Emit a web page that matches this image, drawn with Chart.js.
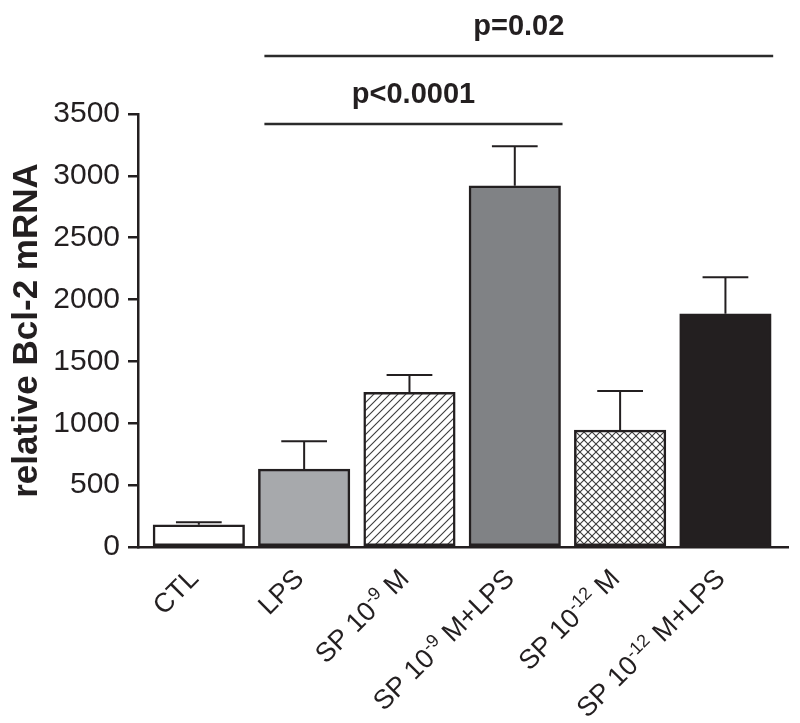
<!DOCTYPE html>
<html>
<head>
<meta charset="utf-8">
<script src="https://cdn.jsdelivr.net/npm/chart.js@4.4.0/dist/chart.umd.min.js"></script>
<style>
  html, body { margin: 0; padding: 0; background: #fff; }
  #wrap { width: 800px; height: 723px; }
</style>
</head>
<body>
<div id="wrap"><canvas id="bcl2Chart"></canvas></div>
<script>
// --- DATA ---
// Group names; ^{...} marks a superscript part of the label.
const groups = ['CTL', 'LPS', 'SP 10^{-9} M', 'SP 10^{-9} M+LPS', 'SP 10^{-12} M', 'SP 10^{-12} M+LPS'];
// Mean relative Bcl-2 mRNA per group.
const meanBcl2 = [180, 630, 1250, 2920, 945, 1885];
// Upward error bar length per group.
const errBcl2 = [20, 225, 140, 320, 315, 295];
const yTicks = [0, 500, 1000, 1500, 2000, 2500, 3000, 3500];
// Significance brackets (group index -> group index).
const compFrom = [1, 1];
const compTo = [3, 5];
const compLabels = ['p<0.0001', 'p=0.02'];

// --- STYLE ---
const INK = '#231f20';
const FONT = '"Liberation Sans", Arial, Helvetica, sans-serif';

// Small repeating tile for the hatched bars ('/' only, or a crosshatch).
function hatch(cross) {
    const s = 8;
    const c = document.createElement('canvas');
    c.width = s; c.height = s;
    const g = c.getContext('2d');
    g.fillStyle = '#fff';
    g.fillRect(0, 0, s, s);
    g.strokeStyle = '#3a3a3a';
    g.lineWidth = 1.1;
    const seg = (x0, y0, x1, y1) => { g.beginPath(); g.moveTo(x0, y0); g.lineTo(x1, y1); g.stroke(); };
    seg(-1, s + 1, s + 1, -1); seg(-1, 1, 1, -1); seg(s - 1, s + 1, s + 1, s - 1);
    if (cross) {
        seg(-1, -1, s + 1, s + 1); seg(-1, s - 1, 1, s + 1); seg(s - 1, -1, s + 1, 1);
    }
    return g.createPattern(c, 'repeat');
}

const barFills = ['#ffffff', '#a7a9ac', hatch(false), '#808285', hatch(true), INK];

// Split 'SP 10^{-9} M' into plain/superscript runs.
function labelParts(label) {
    const out = [];
    label.split(/(\^\{[^}]*\})/).forEach(p => {
        if (!p) return;
        const m = p.match(/^\^\{(.*)\}$/);
        out.push(m ? { text: m[1], sup: true } : { text: p, sup: false });
    });
    return out;
}

// --- PLUGINS ---
const errorBars = {
    id: 'errorBars',
    afterDatasetsDraw(chart) {
        const { ctx, scales: { y } } = chart;
        const bars = chart.getDatasetMeta(0).data;
        ctx.save();
        ctx.strokeStyle = INK;
        ctx.lineWidth = 2;
        bars.forEach((bar, i) => {
            const top = y.getPixelForValue(meanBcl2[i] + errBcl2[i]);
            const half = bar.width * 0.25;
            ctx.beginPath();
            ctx.moveTo(bar.x, bar.y);
            ctx.lineTo(bar.x, top);
            ctx.moveTo(bar.x - half, top);
            ctx.lineTo(bar.x + half, top);
            ctx.stroke();
        });
        ctx.restore();
    }
};

// Rotated group labels with real superscripts (Chart.js ticks can't do those).
const groupLabels = {
    id: 'groupLabels',
    afterDraw(chart) {
        const { ctx, chartArea, scales: { x } } = chart;
        const mainFont = `27px ${FONT}`;
        const supFont = `18px ${FONT}`;
        ctx.save();
        ctx.fillStyle = INK;
        ctx.textBaseline = 'alphabetic';
        ctx.textAlign = 'left';
        groups.forEach((label, i) => {
            const parts = labelParts(label);
            let total = 0;
            parts.forEach(p => {
                ctx.font = p.sup ? supFont : mainFont;
                p.w = ctx.measureText(p.text).width;
                total += p.w;
            });
            ctx.save();
            ctx.translate(x.getPixelForValue(i) + 1, chartArea.bottom + 33);
            ctx.rotate(-Math.PI / 4);
            let cx = -total;
            parts.forEach(p => {
                ctx.font = p.sup ? supFont : mainFont;
                ctx.fillText(p.text, cx, p.sup ? -10 : 0);
                cx += p.w;
            });
            ctx.restore();
        });
        ctx.restore();
    }
};

const brackets = {
    id: 'brackets',
    afterDraw(chart) {
        const { ctx, chartArea, scales: { x } } = chart;
        const bw = chart.getDatasetMeta(0).data[0].width;
        ctx.save();
        compLabels.forEach((label, k) => {
            const lineY = chartArea.top + 10 - k * 68;
            const x0 = x.getPixelForValue(compFrom[k]) - bw / 2 + 6;
            const x1 = x.getPixelForValue(compTo[k]) + bw / 2 + 2;
            ctx.strokeStyle = '#2b2b2b';
            ctx.lineWidth = 2.5;
            ctx.beginPath();
            ctx.moveTo(x0, lineY);
            ctx.lineTo(x1, lineY);
            ctx.stroke();
            ctx.fillStyle = INK;
            ctx.font = `bold 29px ${FONT}`;
            ctx.textAlign = 'center';
            ctx.textBaseline = 'alphabetic';
            ctx.fillText(label, (x0 + x1) / 2, lineY - 21);
        });
        ctx.restore();
    }
};

// --- CHART ---
new Chart(document.getElementById('bcl2Chart'), {
    type: 'bar',
    data: {
        datasets: [{
            data: meanBcl2.map((v, i) => ({ x: i, y: v })),
            backgroundColor: barFills,
            borderColor: INK,
            borderWidth: 2.5,
            borderSkipped: false,
            barThickness: 91.5
        }]
    },
    options: {
        responsive: true,
        maintainAspectRatio: false,
        animation: false,
        layout: { padding: { left: 0, right: 12, top: 114, bottom: 176 } },
        plugins: { legend: { display: false }, tooltip: { enabled: false } },
        scales: {
            x: {
                type: 'linear',
                offset: false,
                min: -0.5775,
                max: 5.594,
                ticks: { display: false },
                grid: { display: false, drawTicks: false, offset: false },
                border: { display: true, color: INK, width: 2.5 }
            },
            y: {
                min: 0,
                max: 3500,
                afterBuildTicks: s => { s.ticks = yTicks.map(v => ({ value: v })); },
                afterFit: s => { s.width = 138; },
                ticks: { color: INK, font: { family: FONT, size: 30 }, padding: 8, callback: v => String(v) },
                grid: { drawOnChartArea: false, drawTicks: true, tickLength: 10, color: INK, lineWidth: 2.5 },
                border: { display: true, color: INK, width: 2.5 },
                title: {
                    display: true,
                    text: 'relative Bcl-2 mRNA',
                    color: INK,
                    font: { family: FONT, size: 35, weight: 'bold' },
                    padding: { top: 6, bottom: 0 }
                }
            }
        }
    },
    plugins: [errorBars, groupLabels, brackets]
});
</script>
</body>
</html>
